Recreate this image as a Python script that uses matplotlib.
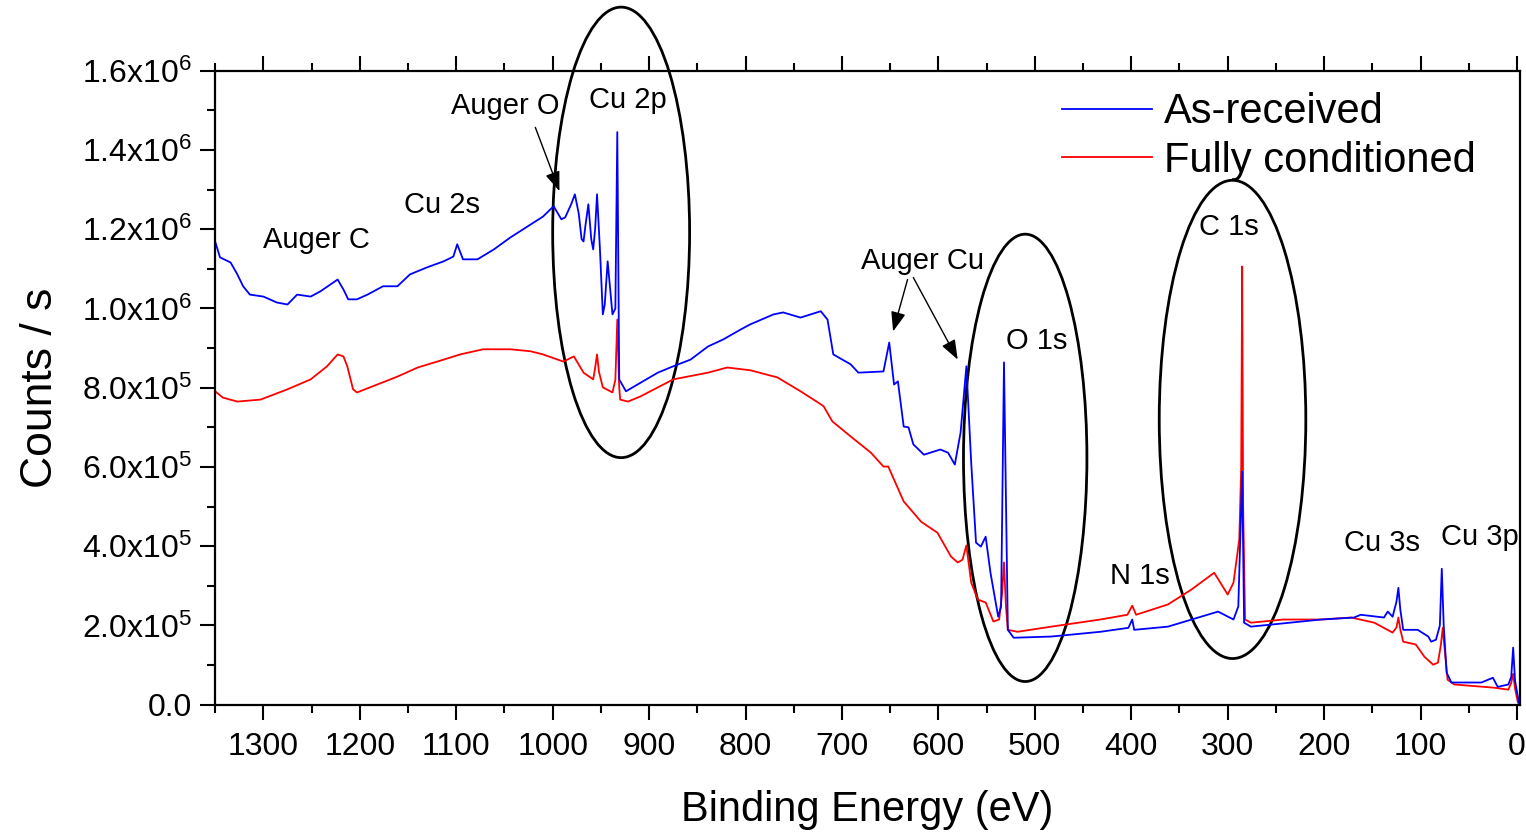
"""XPS survey spectra: as-received vs fully conditioned Cu surface."""
import matplotlib
matplotlib.use("Agg")
import matplotlib.pyplot as plt
from matplotlib.patches import Ellipse
from matplotlib.ticker import MultipleLocator, FuncFormatter

plt.rcParams["font.family"] = ["Liberation Sans", "DejaVu Sans"]
plt.rcParams["mathtext.fontset"] = "custom"
plt.rcParams["mathtext.rm"] = "Liberation Sans"
plt.rcParams["mathtext.it"] = "Liberation Sans:italic"

# binding energy (eV) and counts/s (in thousands)
be_asrec = [1350, 1345, 1334, 1327, 1321, 1314, 1300, 1286, 1275, 1265, 1251, 1241, 1223, 1217,
            1212, 1203, 1192, 1176, 1161, 1148, 1130, 1113, 1103, 1099, 1093, 1078, 1061, 1044,
            1026, 1010, 999, 991, 987, 981, 977, 973, 970, 968, 966, 963, 960, 958, 956, 954,
            951, 948, 946, 943, 940, 938, 935, 933, 931, 924, 912,
            891, 875, 857, 839, 823, 805, 795, 771, 761, 743, 722, 715, 709, 691, 683, 657,
            651, 646, 642, 636, 631, 626, 615, 598, 590, 583, 577, 571, 566, 561, 556, 551,
            546, 538, 535, 532, 528, 522, 483, 432, 403, 399, 397, 362, 310, 294, 289, 285,
            283, 276, 224, 203, 169, 162, 138, 134, 129, 125, 123, 121, 118, 103, 92, 89, 84,
            80, 78, 76, 73, 68, 37, 25, 20, 9, 6, 4, 2, -2]
cps_asrec = [1169, 1129, 1116, 1086, 1056, 1035, 1030, 1015, 1010, 1035, 1030, 1043, 1073, 1048,
             1023, 1023, 1035, 1056, 1056, 1086, 1104, 1119, 1131, 1162, 1124, 1124, 1149, 1179,
             1207, 1232, 1258, 1225, 1230, 1262, 1288, 1240, 1175, 1169, 1210, 1263, 1175, 1149, 1200, 1288,
             1150, 985, 1010, 1119, 1040, 985, 1000, 1445, 821, 791, 808,
             838, 854, 871, 904, 922, 947, 960, 985, 990, 977, 993, 972, 884, 859, 838, 841,
             914, 808, 816, 702, 700, 657, 631, 644, 636, 606, 687, 854, 611, 409, 399, 424,
             333, 222, 248, 864, 189, 169, 172, 184, 194, 215, 189, 197, 235, 215, 248, 588,
             207, 197, 210, 215, 220, 227, 220, 235, 222, 260, 295, 240, 189, 189, 172, 159, 164,
             200, 343, 200, 81, 56, 56, 68, 45, 51, 70, 144, 60, 5]

be_cond = [1350, 1342, 1327, 1303, 1275, 1251, 1234, 1223, 1217, 1213, 1207, 1203, 1182, 1161,
           1140, 1113, 1096, 1072, 1044, 1023, 1010, 989, 978, 968, 958, 956, 954, 952, 948,
           938, 935, 933, 931, 930, 922, 909, 875, 839, 819, 795, 767, 743, 725, 719, 710,
           691, 670, 657, 652, 636, 618, 601, 587, 580, 575, 571, 566, 559, 551, 543, 537,
           534, 532, 530, 528, 518, 483, 432, 404, 399, 395, 362, 338, 314, 300, 294, 288,
           286, 285, 284, 282, 276, 242, 203, 172, 148, 129, 125, 123, 121, 118, 105, 96, 87,
           82, 79, 77, 75, 72, 65, 24, 9, 6, 4, 2, -1]
cps_cond = [791, 775, 765, 770, 796, 821, 854, 884, 879, 854, 796, 788, 808, 828,
            851, 871, 884, 897, 897, 892, 884, 866, 879, 838, 821, 850, 884, 840, 801,
            788, 820, 972, 800, 770, 765, 778, 821, 838, 851, 844, 826, 791, 763, 753, 715,
            677, 636, 601, 601, 513, 462, 434, 374, 359, 366, 402, 308, 265, 258, 210, 215,
            280, 359, 250, 189, 184, 197, 215, 227, 250, 227, 253, 290, 333, 278, 308, 417,
            600, 1106, 500, 215, 207, 215, 215, 220, 207, 182, 195, 220, 190, 159, 152, 121, 101,
            106, 150, 194, 140, 63, 51, 43, 38, 55, 78, 40, 5]

# peak labels: text, binding energy, counts (k)
labels = [("Auger O", 1049, 1510), ("Cu 2p", 922, 1525), ("Cu 2s", 1115, 1260),
          ("Auger C", 1245, 1172), ("Auger Cu", 616, 1121), ("O 1s", 498, 919),
          ("C 1s", 299, 1205), ("N 1s", 391, 326), ("Cu 3s", 140, 409), ("Cu 3p", 39, 424)]

# arrows: (tail BE, tail k, tip BE, tip k)
arrows = [(1018, 1457, 993, 1296), (632, 1073, 647, 942), (626, 1078, 580, 871)]

# circled regions: centre BE, centre k, width eV, height k
rings = [(929, 1192, 142, 1137), (510, 623, 128, 1129), (295, 720, 152, 1207)]


def main():
    fig = plt.figure(figsize=(15.26, 8.32), dpi=100)
    ax = fig.add_axes([0.141, 0.153, 0.855, 0.762])

    k = 1e3
    ax.plot(be_cond, [c * k for c in cps_cond], color="red", lw=1.3, label="Fully conditioned")
    ax.plot(be_asrec, [c * k for c in cps_asrec], color="blue", lw=1.3, label="As-received")

    for text, x, y in labels:
        ax.text(x, y * k, text, fontsize=21, ha="center", va="center")

    for x0, y0, x1, y1 in arrows:
        ax.annotate("", xy=(x1, y1 * k), xytext=(x0, y0 * k),
                    arrowprops=dict(arrowstyle="-|>,head_length=1.2,head_width=0.45",
                                    color="black", lw=1.0, shrinkA=0, shrinkB=0))

    for cx, cy, w, h in rings:
        ax.add_patch(Ellipse((cx, cy * k), w, h * k, fill=False, ec="black",
                             lw=2.0, clip_on=False))

    ax.set_xlim(1350, -3)
    ax.set_ylim(0, 1.6e6)
    ax.xaxis.set_major_locator(MultipleLocator(100))
    ax.xaxis.set_minor_locator(MultipleLocator(50))
    ax.yaxis.set_major_locator(MultipleLocator(2e5))
    ax.yaxis.set_minor_locator(MultipleLocator(1e5))

    def yfmt(v, pos):
        if v == 0:
            return "0.0"
        exp = len(str(int(round(v)))) - 1
        return f"{v / 10 ** exp:.1f}x10$^{{{exp}}}$"

    ax.yaxis.set_major_formatter(FuncFormatter(yfmt))

    ax.tick_params(axis="x", which="both", direction="out", top=True, bottom=True,
                   labeltop=False)
    ax.tick_params(axis="y", which="both", direction="out", left=True, right=False)
    ax.tick_params(which="major", length=11, width=1.5, labelsize=23)
    ax.tick_params(which="minor", length=6, width=1.5)
    ax.tick_params(axis="x", which="major", pad=9)
    ax.tick_params(axis="y", which="major", pad=6)
    for sp in ax.spines.values():
        sp.set_linewidth(1.6)

    ax.set_xlabel("Binding Energy (eV)", fontsize=30, labelpad=20)
    ax.set_ylabel("Counts / s", fontsize=32, labelpad=15)

    handles, names = ax.get_legend_handles_labels()
    ax.legend(handles[::-1], names[::-1], loc="upper right", frameon=False, fontsize=30,
              handlelength=2.15, handletextpad=0.3, labelspacing=0.2,
              bbox_to_anchor=(0.995, 1.025))

    fig.savefig("out.png", dpi=100)


if __name__ == "__main__":
    main()
